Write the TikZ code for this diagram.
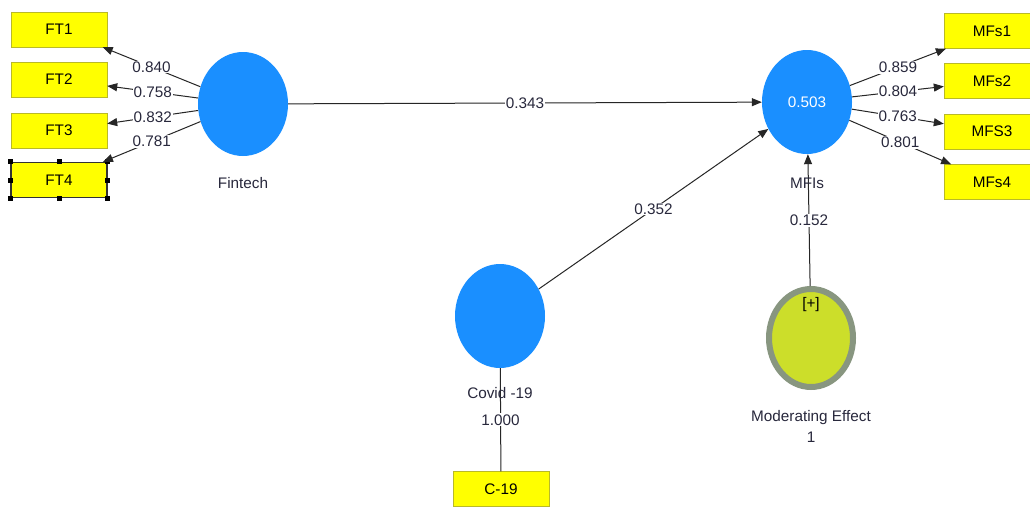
\documentclass[tikz,border=0pt]{standalone}
\usepackage{fontspec}
\setmainfont{Liberation Sans}
\usetikzlibrary{arrows.meta, positioning, shapes.geometric}
\definecolor{plsblue}{RGB}{26,143,255}
\definecolor{boxyellow}{RGB}{255,255,0}
\definecolor{boxedge}{RGB}{185,185,40}
\definecolor{modfill}{RGB}{204,222,42}
\definecolor{modedge}{RGB}{136,150,128}
\definecolor{inktext}{RGB}{40,40,60}

\begin{document}
\begin{tikzpicture}[x=1pt, y=-1pt, >={Triangle[length=10pt,width=8pt]},
    font=\fontsize{15.3}{21}\selectfont,
    indicator/.style={draw=boxedge, fill=boxyellow, minimum width=96pt, minimum height=35pt, inner sep=0pt},
    construct/.style={ellipse, fill=plsblue, minimum width=90pt, minimum height=104pt, inner sep=0pt},
    coef/.style={fill=white, inner sep=1pt, text=inktext},
    path/.style={->, line width=1pt, draw=black!85}]
    \clip (0,0) rectangle (1030,506);
    \fill[white] (0,0) rectangle (1030,506);

    % Fintech indicators
    \node[indicator] (ft1) at (59,29.5) {FT1};
    \node[indicator] (ft2) at (59,79.5) {FT2};
    \node[indicator] (ft3) at (59,130.5) {FT3};
    \node[indicator, draw=black!80, line width=1.3pt] (ft4) at (59,180) {FT4};
    \foreach \a in {north west, north, north east, east, south east, south, south west, west}
        \fill (ft4.\a) +(-2.5,-2.5) rectangle +(2.5,2.5);

    % MFIs indicators
    \node[indicator] (mfs1) at (992,31) {MFs1};
    \node[indicator] (mfs2) at (992,81) {MFs2};
    \node[indicator] (mfs3) at (992,131.5) {MFS3};
    \node[indicator] (mfs4) at (992,182) {MFs4};

    % Covid indicator
    \node[indicator] (c19) at (501,489) {C-19};

    % Constructs
    \node[construct] (fintech) at (243,104) {};
    \node[text=inktext] (fintechlbl) at (243,183) {Fintech};
    \node[construct, text=white] (mfis) at (807,102) {0.503};
    \node[construct] (covid) at (500,316) {};
    \node[ellipse, fill=modfill, draw=modedge, line width=6pt, minimum width=84pt,
          minimum height=98pt, inner sep=0pt] (modeff) at (811,338) {};
    \node[text=black] (plus) at (811,305) {[+]};

    % Outer loadings
    \draw[path] (fintech) -- node[coef] {0.840} (ft1);
    \draw[path] (fintech) -- node[coef] {0.758} (ft2);
    \draw[path] (fintech) -- node[coef] {0.832} (ft3);
    \draw[path] (fintech) -- node[coef] {0.781} (ft4);
    \draw[path] (mfis) -- node[coef] {0.859} (mfs1);
    \draw[path] (mfis) -- node[coef] {0.804} (mfs2);
    \draw[path] (mfis) -- node[coef] {0.763} (mfs3);
    \draw[path] (mfis) -- node[coef] {0.801} (mfs4);
    \draw[path, -] (covid) -- node[coef] {1.000} (c19);

    % Structural paths
    \draw[path] (fintech) -- node[coef] {0.343} (mfis);
    \draw[path] (covid) -- node[coef] {0.352} (mfis);
    \draw[path] (modeff) -- node[coef] {0.152} (mfis);

    % Construct labels
    \node[text=inktext] (mfislbl) at (807,183) {MFIs};
    \node[text=inktext] (covidlbl) at (500,393) {Covid -19};
    \node[text=inktext, align=center] (modlbl) at (811,426) {Moderating Effect\\1};
\end{tikzpicture}
\end{document}
